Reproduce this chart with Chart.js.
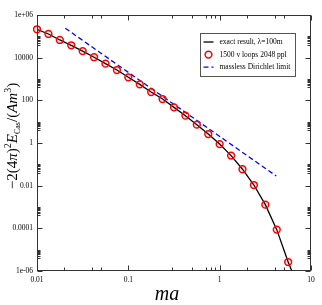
<!DOCTYPE html>
<html><head><meta charset="utf-8">
<script src="https://cdn.jsdelivr.net/npm/chart.js@4/dist/chart.umd.min.js"></script>
<style>html,body{margin:0;padding:0;background:#fff;}#wrap{width:322px;height:305px;}</style>
</head><body><div id="wrap"><canvas id="c" width="322" height="305"></canvas></div>
<script>
// ---- data ----
const maValues = [0.01, 0.01334, 0.01778, 0.02371, 0.03162, 0.04217, 0.05623, 0.07499,
  0.1, 0.1334, 0.1778, 0.2371, 0.3162, 0.4217, 0.5623, 0.7499,
  1.0, 1.334, 1.778, 2.371, 3.162, 4.217, 5.623];
const loopValues = [2.14e5, 1.29e5, 6.76e4, 3.80e4, 2.04e4, 1.05e4, 5250, 2630,
  1200, 562, 245, 115, 46.8, 19.1, 7.24, 2.63,
  0.89, 0.257, 0.0589, 0.0107, 1.29e-3, 8.7e-5, 2.63e-6];
const exactX = [0.01, 0.01334, 0.01778, 0.02371, 0.03162, 0.04217, 0.05623, 0.07499,
  0.1, 0.1334, 0.1778, 0.2371, 0.3162, 0.4217, 0.5623, 0.7499,
  1.0, 1.334, 1.778, 2.371, 3.162, 4.217, 5.623, 6.17];
const exactY = [2.14e5, 1.29e5, 6.76e4, 3.80e4, 2.04e4, 1.05e4, 5250, 2630,
  1200, 562, 245, 115, 46.8, 19.1, 7.24, 2.63,
  0.89, 0.257, 0.0589, 0.0107, 1.29e-3, 8.7e-5, 2.63e-6, 1e-6];
const masslessX = [0.0204, 4.17];
const masslessY = [2.4e5, 0.0282];
const seriesLabels = ["exact result, \u03bb=100m", "1500 v loops 2048 ppl", "massless Dirichlet limit"];

const xTickValues = [0.01, 0.1, 1, 10];
const xTickLabels = ["0.01", "0.1", "1", "10"];
const xMinorTicks = [0.02, 0.04, 0.05, 0.3, 0.5, 0.7, 0.8, 0.9, 2, 4, 5];
const yTickValues = [1e6, 1e4, 100, 1, 0.01, 1e-4, 1e-6];
const yTickLabels = ["1e+06", "10000", "100", "1", "0.01", "0.0001", "1e-06"];
const yMinorDecades = [1e4, 1e2, 1, 1e-2, 1e-4, 1e-6];
const yMinorSteps = [4, 5, 6, 7, 8, 9, 10];
const xTitle = "ma";

const SERIF = "'Liberation Serif', 'DejaVu Serif', serif";

const frameTicks = {
  id: 'frameTicks',
  afterDatasetsDraw(chart) {
    const {ctx, chartArea: a, scales: {x, y}} = chart;
    ctx.save();
    ctx.strokeStyle = '#333';
    ctx.lineWidth = 1;
    const L = Math.round(a.left) + 0.5, R = Math.round(a.right) - 0.5;
    const T = Math.round(a.top) + 0.5, B = Math.round(a.bottom) - 0.5;
    ctx.strokeRect(L, T, R - L, B - T);
    ctx.beginPath();
    const xt = (v, len) => {
      const px = Math.round(x.getPixelForValue(v)) + 0.5;
      ctx.moveTo(px, B); ctx.lineTo(px, B - len);
      ctx.moveTo(px, T); ctx.lineTo(px, T + len);
    };
    const yt = (v, len) => {
      const py = Math.round(y.getPixelForValue(v)) + 0.5;
      ctx.moveTo(L, py); ctx.lineTo(L + len, py);
      ctx.moveTo(R, py); ctx.lineTo(R - len, py);
    };
    xTickValues.forEach(v => xt(v, 5));
    xMinorTicks.forEach(v => xt(v, 3));
    yTickValues.forEach(v => yt(v, 5));
    yMinorDecades.forEach(d => yMinorSteps.forEach(s => yt(s * d, 3)));
    ctx.stroke();
    ctx.restore();
  }
};

const boxLegend = {
  id: 'boxLegend',
  afterDraw(chart) {
    const {ctx, chartArea: a} = chart;
    const bx = Math.round(a.right) - 110.5, by = Math.round(a.top) + 18.5, bw = 95, bh = 43;
    ctx.save();
    ctx.fillStyle = '#fff';
    ctx.fillRect(bx, by, bw, bh);
    ctx.strokeStyle = '#555';
    ctx.lineWidth = 1;
    ctx.strokeRect(bx, by, bw, bh);
    const order = [1, 0, 2];
    ctx.font = '7.5px ' + SERIF;
    ctx.textBaseline = 'middle';
    ctx.textAlign = 'left';
    order.forEach((di, i) => {
      const ds = chart.data.datasets[di];
      const cy = by + 8.5 + i * 12.6;
      const sx = bx + 3, ex = bx + 13;
      if (ds.showLine === false) {
        ctx.beginPath();
        ctx.setLineDash([]);
        ctx.strokeStyle = ds.pointBorderColor;
        ctx.lineWidth = ds.pointBorderWidth;
        ctx.arc((sx + ex) / 2, cy, ds.pointRadius, 0, Math.PI * 2);
        ctx.stroke();
      } else {
        ctx.beginPath();
        ctx.setLineDash(ds.borderDash || []);
        ctx.strokeStyle = ds.borderColor;
        ctx.lineWidth = ds.borderWidth;
        ctx.moveTo(sx, cy); ctx.lineTo(ex, cy);
        ctx.stroke();
        ctx.setLineDash([]);
      }
      ctx.fillStyle = '#000';
      ctx.fillText(ds.label, bx + 19, cy);
    });
    ctx.restore();
  }
};

const axisTitles = {
  id: 'axisTitles',
  afterDraw(chart) {
    const {ctx} = chart;
    ctx.save();
    ctx.fillStyle = '#000';
    // x title
    ctx.font = 'italic 20px ' + SERIF;
    ctx.textAlign = 'center';
    ctx.textBaseline = 'alphabetic';
    ctx.fillText(xTitle, 167, 300);
    // y title, composed of pieces
    const pieces = [
      {t: '\u22122(4', f: '15px ', dy: 0},
      {t: '\u03c0', f: 'italic 15px ', dy: 0},
      {t: ')', f: '15px ', dy: 0},
      {t: '2', f: '10px ', dy: -6},
      {t: 'E', f: 'italic 15px ', dy: 0},
      {t: 'Cas', f: '8px ', dy: 3},
      {t: '/(', f: '15px ', dy: 0},
      {t: 'Am', f: 'italic 15px ', dy: 0},
      {t: '3', f: '10px ', dy: -6},
      {t: ')', f: '15px ', dy: 0}
    ];
    let w = 0;
    pieces.forEach(p => { ctx.font = p.f + SERIF; p.w = ctx.measureText(p.t).width; w += p.w; });
    ctx.translate(16.5, 136);
    ctx.rotate(-Math.PI / 2);
    ctx.textAlign = 'left';
    let cx = -w / 2;
    pieces.forEach(p => { ctx.font = p.f + SERIF; ctx.fillText(p.t, cx, p.dy); cx += p.w; });
    ctx.restore();
  }
};

new Chart(document.getElementById('c'), {
  type: 'line',
  data: {
    datasets: [
      {
        label: seriesLabels[1],
        data: maValues.map((v, i) => ({x: v, y: loopValues[i]})),
        showLine: false,
        pointStyle: 'circle',
        pointRadius: 3.4,
        pointBorderColor: '#ff0000',
        pointBackgroundColor: 'rgba(255,0,0,0.08)',
        pointBorderWidth: 1.5,
        borderColor: '#ff0000',
        clip: false,
        order: 0
      },
      {
        label: seriesLabels[0],
        data: exactX.map((v, i) => ({x: v, y: exactY[i]})),
        borderColor: '#000',
        borderWidth: 1.3,
        pointRadius: 0,
        fill: false,
        order: 1
      },
      {
        label: seriesLabels[2],
        data: masslessX.map((v, i) => ({x: v, y: masslessY[i]})),
        borderColor: '#0000ff',
        borderWidth: 1.3,
        borderDash: [5, 3],
        pointRadius: 0,
        fill: false,
        order: 2
      }
    ]
  },
  options: {
    responsive: false,
    animation: false,
    devicePixelRatio: 1,
    layout: {padding: {top: 15, right: 11, left: 0, bottom: 0}},
    plugins: {legend: {display: false}, tooltip: {enabled: false}},
    scales: {
      x: {
        type: 'logarithmic', min: 0.01, max: 10, position: 'bottom',
        grid: {display: false, drawTicks: false},
        border: {display: false},
        ticks: {autoSkip: false, maxRotation: 0, padding: 5, color: '#000',
          font: {family: SERIF, size: 7.5},
          callback: (v, i) => xTickLabels[i]},
        afterBuildTicks: s => { s.ticks = xTickValues.map(v => ({value: v})); },
        afterFit: s => { s.height = 34; }
      },
      y: {
        type: 'logarithmic', min: 1e-6, max: 1e6, position: 'left',
        grid: {display: false, drawTicks: false},
        border: {display: false},
        ticks: {autoSkip: false, padding: 4, color: '#000',
          font: {family: SERIF, size: 7.5},
          callback: (v, i) => yTickLabels[i]},
        afterBuildTicks: s => { s.ticks = yTickValues.map(v => ({value: v})); },
        afterFit: s => { s.width = 37; }
      }
    }
  },
  plugins: [frameTicks, boxLegend, axisTitles]
});
</script>
</body></html>
